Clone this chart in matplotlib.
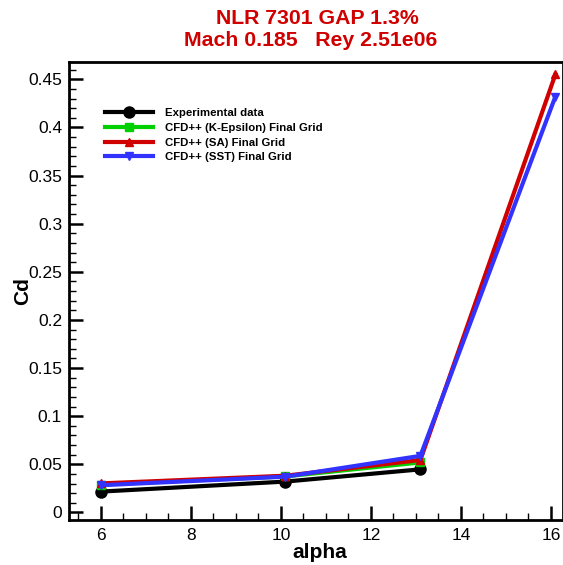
import numpy as np
import matplotlib.pyplot as plt
from matplotlib.ticker import MultipleLocator

plt.rcParams['font.family'] = ['Liberation Sans', 'DejaVu Sans']

# data
alpha_exp = [6.0, 10.1, 13.1]
cd_exp = [0.0217, 0.0321, 0.0448]

alpha_ke = [6.0, 10.1, 13.1]
cd_ke = [0.029, 0.0375, 0.052]

alpha_sa = [6.0, 10.1, 13.1, 16.1]
cd_sa = [0.0302, 0.0382, 0.0545, 0.455]

alpha_sst = [6.0, 10.1, 13.1, 16.1]
cd_sst = [0.0283, 0.0372, 0.0588, 0.432]

fig = plt.figure(figsize=(5.63, 5.65), dpi=100)
ax = fig.add_axes([0.1226, 0.0795, 0.8774, 0.8108])

ax.plot(alpha_exp, cd_exp, color='black', lw=3, marker='o', ms=8, label='Experimental data')
ax.plot(alpha_ke, cd_ke, color='#00d000', lw=3, marker='s', ms=6, label='CFD++ (K-Epsilon) Final Grid')
ax.plot(alpha_sa, cd_sa, color='#d00000', lw=3, marker='^', ms=6, label='CFD++ (SA) Final Grid')
ax.plot(alpha_sst, cd_sst, color='#3333ff', lw=3, marker='v', ms=6, label='CFD++ (SST) Final Grid')

ax.set_xlim(5.29, 16.27)
ax.set_ylim(-0.0079, 0.468)
ax.xaxis.set_major_locator(MultipleLocator(2))
ax.xaxis.set_minor_locator(MultipleLocator(0.5))
ax.yaxis.set_major_locator(MultipleLocator(0.05))
ax.yaxis.set_minor_locator(MultipleLocator(0.01))
ax.yaxis.set_major_formatter(plt.FuncFormatter(lambda v, p: '0' if abs(v) < 1e-9 else ('%.2f' % v).rstrip('0')))
ax.tick_params(which='major', direction='in', length=10, width=1.8, labelsize=12.5)
ax.tick_params(axis='x', which='major', pad=6)
ax.tick_params(axis='y', which='major', pad=5)
ax.tick_params(which='minor', direction='in', length=5, width=1)
for s in ax.spines.values():
    s.set_linewidth(2)

ax.set_xlabel('alpha', fontsize=15, fontweight='bold')
ax.xaxis.set_label_coords(0.507, -0.05)
ax.set_ylabel('Cd', fontsize=15, fontweight='bold')
ax.yaxis.set_label_coords(-0.075, 0.5)

fig.text(0.563, 0.968, 'NLR 7301 GAP 1.3%', color='#d00000', fontsize=15.3,
         fontweight='bold', ha='center', va='center')
fig.text(0.551, 0.928, 'Mach 0.185   Rey 2.51e06', color='#d00000', fontsize=15.3,
         fontweight='bold', ha='center', va='center')

leg = ax.legend(loc='upper left', bbox_to_anchor=(0.052, 0.922), frameon=False,
                prop={'size': 8.2, 'weight': 'bold'}, handlelength=4.2,
                labelspacing=0.42, handletextpad=1.1)

fig.savefig('out.png', dpi=100)
